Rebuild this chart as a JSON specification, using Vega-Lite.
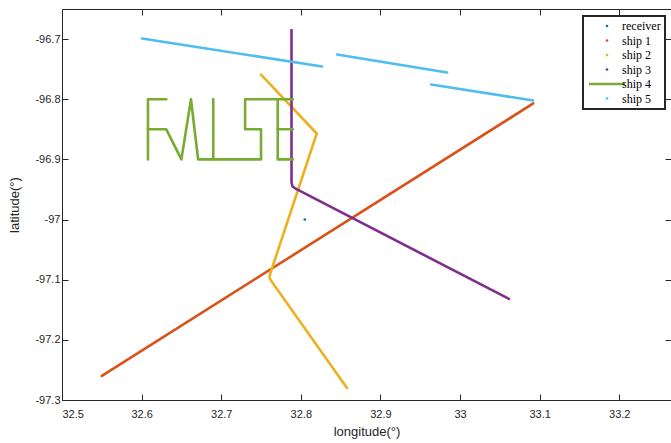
{
  "$schema": "https://vega.github.io/schema/vega-lite/v6.json",
  "width": 609,
  "height": 391,
  "autosize": {"type": "none"},
  "padding": {"left": 62, "top": 9, "right": 0, "bottom": 43},
  "background": "white",
  "config": {
    "view": {"stroke": null},
    "axis": {
      "domainColor": "#262626", "tickColor": "#262626", "labelColor": "#262626", "titleColor": "#262626",
      "labelFont": "Liberation Sans", "titleFont": "Liberation Sans", "labelFontSize": 11, "titleFontSize": 13,
      "titleFontWeight": "normal", "grid": false, "tickSize": -6, "domainWidth": 1, "tickWidth": 1
    }
  },
  "data": {
    "values": [
      {"series": "receiver", "seg": "r", "i": 0, "lon": 32.805, "lat": -97.0},
      {"series": "ship 1", "seg": "1", "i": 0, "lon": 32.55, "lat": -97.26},
      {"series": "ship 1", "seg": "1", "i": 1, "lon": 33.092, "lat": -96.807},
      {"series": "ship 2", "seg": "2", "i": 0, "lon": 32.75, "lat": -96.759},
      {"series": "ship 2", "seg": "2", "i": 1, "lon": 32.82, "lat": -96.857},
      {"series": "ship 2", "seg": "2", "i": 2, "lon": 32.7613, "lat": -97.091},
      {"series": "ship 2", "seg": "2", "i": 3, "lon": 32.7607, "lat": -97.097},
      {"series": "ship 2", "seg": "2", "i": 4, "lon": 32.7638, "lat": -97.104},
      {"series": "ship 2", "seg": "2", "i": 5, "lon": 32.858, "lat": -97.28},
      {"series": "ship 3", "seg": "3", "i": 0, "lon": 32.7883, "lat": -96.685},
      {"series": "ship 3", "seg": "3", "i": 1, "lon": 32.7883, "lat": -96.938},
      {"series": "ship 3", "seg": "3", "i": 2, "lon": 32.7896, "lat": -96.945},
      {"series": "ship 3", "seg": "3", "i": 3, "lon": 32.794, "lat": -96.949},
      {"series": "ship 3", "seg": "3", "i": 4, "lon": 33.0615, "lat": -97.132},
      {"series": "ship 4", "seg": "4a", "i": 0, "lon": 32.608, "lat": -96.9},
      {"series": "ship 4", "seg": "4a", "i": 1, "lon": 32.608, "lat": -96.8},
      {"series": "ship 4", "seg": "4a", "i": 2, "lon": 32.631, "lat": -96.8},
      {"series": "ship 4", "seg": "4b", "i": 0, "lon": 32.608, "lat": -96.85},
      {"series": "ship 4", "seg": "4b", "i": 1, "lon": 32.631, "lat": -96.85},
      {"series": "ship 4", "seg": "4b", "i": 2, "lon": 32.65, "lat": -96.9},
      {"series": "ship 4", "seg": "4b", "i": 3, "lon": 32.662, "lat": -96.8},
      {"series": "ship 4", "seg": "4b", "i": 4, "lon": 32.671, "lat": -96.9},
      {"series": "ship 4", "seg": "4b", "i": 5, "lon": 32.75, "lat": -96.9},
      {"series": "ship 4", "seg": "4b", "i": 6, "lon": 32.75, "lat": -96.85},
      {"series": "ship 4", "seg": "4b", "i": 7, "lon": 32.73, "lat": -96.85},
      {"series": "ship 4", "seg": "4b", "i": 8, "lon": 32.73, "lat": -96.8},
      {"series": "ship 4", "seg": "4b", "i": 9, "lon": 32.79, "lat": -96.8},
      {"series": "ship 4", "seg": "4c", "i": 0, "lon": 32.69, "lat": -96.8},
      {"series": "ship 4", "seg": "4c", "i": 1, "lon": 32.69, "lat": -96.9},
      {"series": "ship 4", "seg": "4d", "i": 0, "lon": 32.771, "lat": -96.8},
      {"series": "ship 4", "seg": "4d", "i": 1, "lon": 32.771, "lat": -96.9},
      {"series": "ship 4", "seg": "4d", "i": 2, "lon": 32.79, "lat": -96.9},
      {"series": "ship 4", "seg": "4e", "i": 0, "lon": 32.771, "lat": -96.85},
      {"series": "ship 4", "seg": "4e", "i": 1, "lon": 32.79, "lat": -96.85},
      {"series": "ship 5", "seg": "5a", "i": 0, "lon": 32.6005, "lat": -96.699},
      {"series": "ship 5", "seg": "5a", "i": 1, "lon": 32.8266, "lat": -96.7456},
      {"series": "ship 5", "seg": "5b", "i": 0, "lon": 32.8455, "lat": -96.7257},
      {"series": "ship 5", "seg": "5b", "i": 1, "lon": 32.9837, "lat": -96.7556},
      {"series": "ship 5", "seg": "5c", "i": 0, "lon": 32.9636, "lat": -96.7755},
      {"series": "ship 5", "seg": "5c", "i": 1, "lon": 33.0917, "lat": -96.802}
    ]
  },
  "encoding": {
    "x": {
      "field": "lon", "type": "quantitative",
      "scale": {"domain": [32.5, 33.265], "nice": false, "zero": false},
      "axis": {"orient": "bottom", "title": "longitude(°)", "values": [32.5, 32.6, 32.7, 32.8, 32.9, 33, 33.1, 33.2], "labelExpr": "'' + datum.value", "labelPadding": 14, "titlePadding": 6}
    },
    "y": {
      "field": "lat", "type": "quantitative",
      "scale": {"domain": [-97.3, -96.65], "nice": false, "zero": false},
      "axis": {"orient": "left", "title": "latitude(°)", "values": [-97.3, -97.2, -97.1, -97, -96.9, -96.8, -96.7], "labelExpr": "'' + datum.value", "labelPadding": 8, "titlePadding": 13}
    },
    "color": {
      "field": "series", "type": "nominal",
      "scale": {
        "domain": ["receiver", "ship 1", "ship 2", "ship 3", "ship 4", "ship 5"],
        "range": ["#0072BD", "#D95319", "#EDB120", "#7E2F8E", "#77AC30", "#4DBEEE"]
      },
      "legend": {
        "title": null,
        "orient": "none",
        "legendX": 521,
        "legendY": 7,
        "labelFont": "Liberation Serif",
        "labelFontSize": 12,
        "labelColor": "#000000",
        "labelOffset": 9,
        "symbolOffset": 14,
        "symbolSize": 1300,
        "rowPadding": 2.5,
        "padding": 4,
        "strokeColor": "#262626",
        "fillColor": "white",
        "encode": {
          "legend": {"update": {"strokeWidth": {"value": 2}}},
          "symbols": {
            "update": {
              "shape": {"signal": "datum.value === 'ship 4' ? 'stroke' : 'circle'"},
              "size": {"signal": "datum.value === 'ship 4' ? 1300 : 7"},
              "fill": {"signal": "datum.value === 'ship 4' ? 'transparent' : scale('color', datum.value)"},
              "stroke": {"signal": "scale('color', datum.value)"},
              "strokeWidth": {"signal": "datum.value === 'ship 4' ? 2.6 : 0"},
              "opacity": {"value": 1}
            }
          }
        }
      }
    }
  },
  "layer": [
    {
      "transform": [{"filter": "datum.series !== 'receiver'"}],
      "mark": {"type": "line", "strokeWidth": 2.6, "strokeCap": "round", "strokeJoin": "round"},
      "encoding": {
        "detail": {"field": "seg", "type": "nominal"},
        "order": {"field": "i", "type": "quantitative"}
      }
    },
    {
      "transform": [{"filter": "datum.series === 'receiver'"}],
      "mark": {"type": "point", "filled": true, "size": 7, "opacity": 1},
      "encoding": {
        "x": {"field": "lon", "type": "quantitative", "axis": null},
        "y": {"field": "lat", "type": "quantitative", "axis": null}
      }
    },
    {
      "mark": {"type": "rule", "opacity": 0},
      "encoding": {
        "x": {"field": "lon", "type": "quantitative", "axis": {"orient": "top", "title": null, "labels": false, "values": [32.5, 32.6, 32.7, 32.8, 32.9, 33, 33.1, 33.2]}},
        "y": {"field": "lat", "type": "quantitative", "axis": {"orient": "right", "title": null, "labels": false, "values": [-97.3, -97.2, -97.1, -97, -96.9, -96.8, -96.7]}},
        "color": {"value": "transparent"}
      }
    }
  ],
  "resolve": {"axis": {"x": "independent", "y": "independent"}}
}
